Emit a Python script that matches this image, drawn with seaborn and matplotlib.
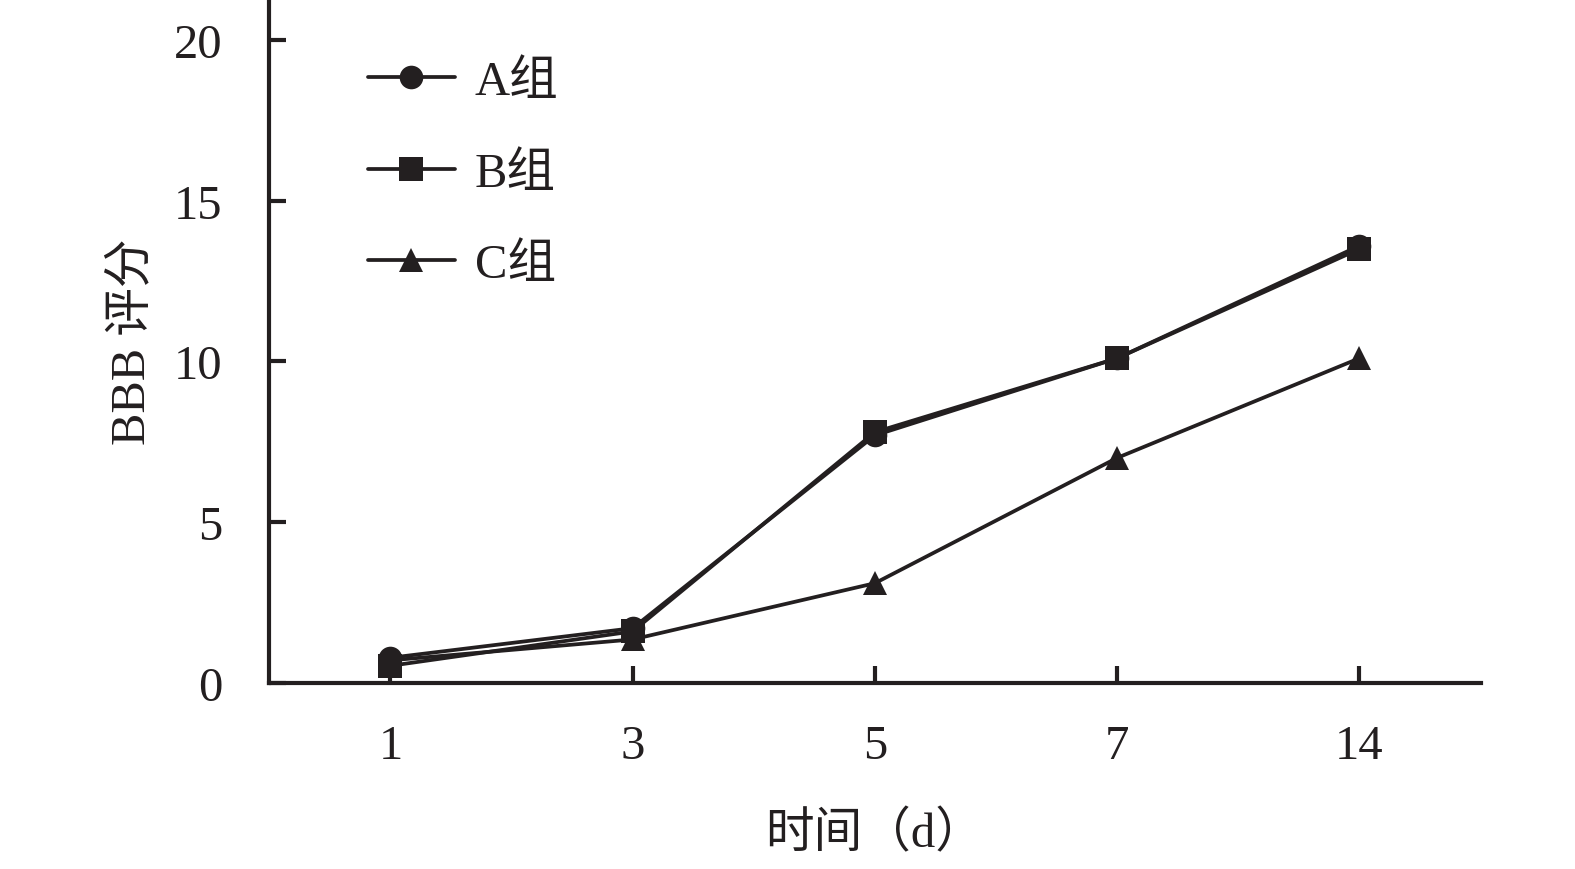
import matplotlib
matplotlib.use("Agg")
import matplotlib.pyplot as plt
import seaborn as sns
import pandas as pd

days = ["1", "3", "5", "7", "14"]
group_a = [0.78, 1.7, 7.7, 10.1, 13.6]
group_b = [0.53, 1.6, 7.8, 10.1, 13.5]
group_c = [0.7, 1.35, 3.1, 7.0, 10.1]
groups = ["A组", "B组", "C组"]
y_ticks = [0, 5, 10, 15, 20]

fonts = ["Liberation Serif", "Noto Sans CJK SC"]

sns.set_style("ticks")
plt.rcParams["font.family"] = fonts

df = pd.DataFrame({
    "day": days * 3,
    "pos": list(range(len(days))) * 3,
    "score": group_a + group_b + group_c,
    "group": [g for g in groups for _ in days],
})

fig = plt.figure(figsize=(15.75, 8.7), dpi=100)
ax = fig.add_axes([0.171, 0.214, 0.769, 0.786])

sns.lineplot(
    data=df, x="pos", y="score", hue="group", style="group",
    palette=["#231f20"] * 3, markers=["o", "s", "^"], dashes=False,
    markersize=17, linewidth=2.7, markeredgewidth=0, ax=ax,
)

ax.set_xlim(-0.5, 4.5)
ax.set_ylim(0, 21.28)
ax.set_xticks(range(len(days)))
ax.set_xticklabels(days)
ax.set_yticks(y_ticks)

for side in ["top", "right"]:
    ax.spines[side].set_visible(False)
for side in ["left", "bottom"]:
    ax.spines[side].set_linewidth(3)
    ax.spines[side].set_color("#231f20")

ax.tick_params(axis="both", direction="in", length=12, width=3, color="#231f20",
               labelsize=35, labelcolor="#231f20")
ax.tick_params(axis="x", pad=30)
ax.tick_params(axis="y", pad=34)

ax.set_xlabel("时间（d）", fontsize=35, color="#231f20", labelpad=30)
ax.set_ylabel("BBB 评分", fontsize=35, color="#231f20", labelpad=14)

leg = ax.legend(
    loc="upper left", bbox_to_anchor=(0.045, 0.975), frameon=False,
    fontsize=35, handlelength=1.8, labelspacing=0.98, handletextpad=0.4,
)
for t in leg.get_texts():
    t.set_color("#231f20")

fig.savefig("out.png", dpi=100)
